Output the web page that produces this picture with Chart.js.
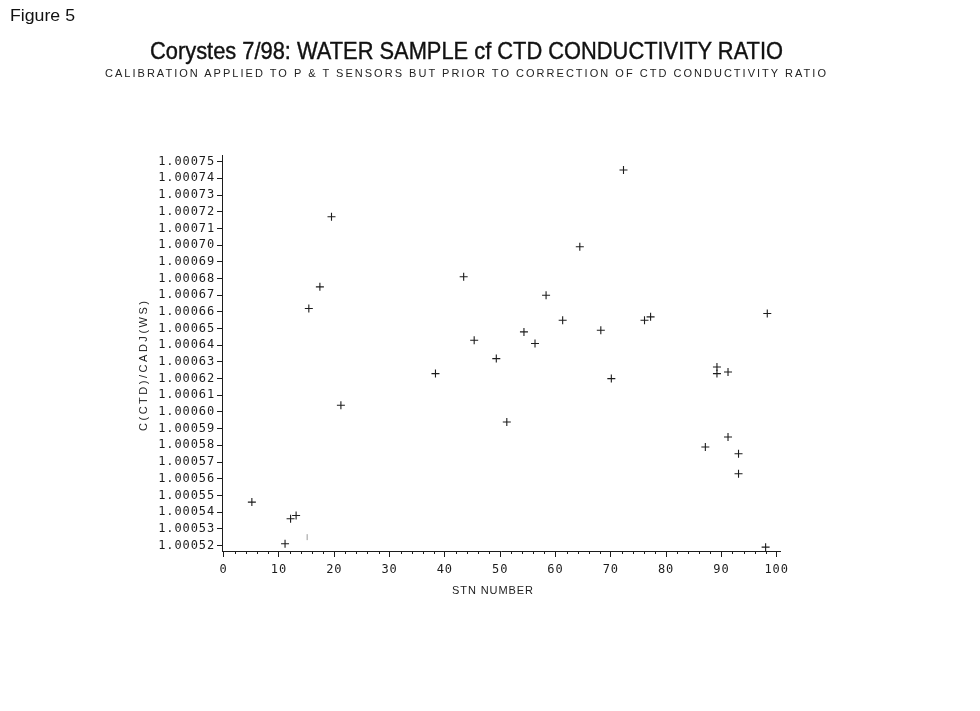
<!DOCTYPE html>
<html><head><meta charset="utf-8">
<script src="https://cdn.jsdelivr.net/npm/chart.js@4/dist/chart.umd.min.js"></script>
<style>
html,body{margin:0;padding:0;background:#fff;width:980px;height:711px;overflow:hidden;}
#wrap{position:relative;width:980px;height:711px;}
canvas{position:absolute;left:0;top:0;}
.t{position:absolute;left:0;top:0;white-space:nowrap;color:#111;line-height:1;transform-origin:0 0;}
</style></head><body>
<div id="wrap">
<canvas id="c" width="980" height="711"></canvas>
<div class="t" id="fig" style="font-family:'Liberation Sans Narrow','Liberation Sans',Arial;font-size:17px;">Figure 5</div>
<div class="t" id="title" style="font-family:'Liberation Sans Narrow','Liberation Sans',Arial;font-size:24px;-webkit-text-stroke:0.4px #111;">Corystes 7/98: WATER SAMPLE cf CTD CONDUCTIVITY RATIO</div>
<div class="t" id="sub" style="font-family:'Liberation Sans',Arial;font-size:11px;color:#222;">CALIBRATION APPLIED TO P &amp; T SENSORS BUT PRIOR TO CORRECTION OF CTD CONDUCTIVITY RATIO</div>
<div class="t" id="ytitle" style="font-family:'Liberation Sans',Arial;font-size:11px;color:#222;">C(CTD)/CADJ(WS)</div>
<div class="t" id="xtitle" style="font-family:'Liberation Sans',Arial;font-size:11px;color:#222;">STN NUMBER</div>
</div>
<script>
// ---- data ----
const stn = [5.1, 11.1, 12.1, 13.1, 15.4, 17.4, 19.5, 21.2, 38.3, 43.4, 45.3, 49.3, 51.2, 54.3, 56.3, 58.3, 61.3, 64.4, 68.2, 70.1, 72.3, 76.1, 77.2, 87.1, 89.2, 89.2, 91.2, 91.2, 93.1, 93.1, 98.0, 98.3];
const ratio = [1.000546, 1.000521, 1.000536, 1.000538, 1.000662, 1.000675, 1.000717, 1.000604, 1.000623, 1.000681, 1.000643, 1.000632, 1.000594, 1.000648, 1.000641, 1.000670, 1.000655, 1.000699, 1.000649, 1.000620, 1.000745, 1.000655, 1.000657, 1.000579, 1.000627, 1.000623, 1.000624, 1.000585, 1.000575, 1.000563, 1.000519, 1.000659];
const stnFaint = [15.1];
const ratioFaint = [1.000525];
const xTickLabels = ['0','10','20','30','40','50','60','70','80','90','100'];
const xMinorTicks = [2,4,6,8,12,14,16,18,22,24,26,28,32,34,36,38,42,44,46,48,52,54,56,58,62,64,66,68,72,74,76,78,82,84,86,88,92,94,96,98];
const yTickLabels = ['1.00052','1.00053','1.00054','1.00055','1.00056','1.00057','1.00058','1.00059','1.00060','1.00061','1.00062','1.00063','1.00064','1.00065','1.00066','1.00067','1.00068','1.00069','1.00070','1.00071','1.00072','1.00073','1.00074','1.00075'];

const ink = '#1c1c1c';
const tickFont = {family:"'DejaVu Sans Mono', 'Liberation Mono', monospace", size:12};

const spacingPlugin = {
  id:'spacing',
  beforeDraw(chart){ chart.ctx.letterSpacing = '0.9px'; },
  afterDraw(chart){
    const ctx = chart.ctx, x = chart.scales.x, bottom = chart.chartArea.bottom;
    ctx.save();
    ctx.letterSpacing = '0px';
    ctx.strokeStyle = ink; ctx.lineWidth = 1;
    ctx.beginPath();
    xMinorTicks.forEach(v => {
      const px = Math.round(x.getPixelForValue(v)) + 0.5;
      ctx.moveTo(px, bottom); ctx.lineTo(px, bottom + 3);
    });
    ctx.stroke();
    ctx.restore();
    ctx.letterSpacing = '0px';
  }
};

new Chart(document.getElementById('c'), {
  type:'scatter',
  data:{datasets:[
    {data: stn.map((s,i)=>({x:s, y:ratio[i]})), pointStyle:'cross', pointRadius:4, pointHoverRadius:4, borderColor:ink, borderWidth:1.1, backgroundColor:ink},
    {data: stnFaint.map((s,i)=>({x:s, y:ratioFaint[i]})), pointStyle:'line', rotation:90, pointRadius:3, pointHoverRadius:3, borderColor:'#9a9a9a', borderWidth:1, backgroundColor:'#9a9a9a'}
  ]},
  options:{
    responsive:false, devicePixelRatio:1, animation:false,
    layout:{padding:{top:155, right:200, bottom:130, left:0}},
    plugins:{legend:{display:false}, tooltip:{enabled:false}, title:{display:false}},
    scales:{
      x:{type:'linear', min:-0.3, max:100.6,
        afterBuildTicks: s => { s.ticks = xTickLabels.map(v => ({value: parseFloat(v)})); },
        afterFit: s => { s.height = 30; },
        ticks:{callback:(v,i)=>xTickLabels[i], font:tickFont, color:ink, padding:6, maxRotation:0, autoSkip:false},
        grid:{drawOnChartArea:false, drawTicks:true, tickLength:6, tickColor:ink, tickWidth:1},
        border:{display:true, color:ink, width:1}
      },
      y:{type:'linear', min:1.0005167, max:1.000754,
        afterBuildTicks: s => { s.ticks = yTickLabels.map(v => ({value: parseFloat(v)})); },
        afterFit: s => { s.width = 222; },
        ticks:{callback:(v,i)=>yTickLabels[i], font:tickFont, color:ink, padding:2, autoSkip:false},
        grid:{drawOnChartArea:false, drawTicks:true, tickLength:5, tickColor:ink, tickWidth:1},
        border:{display:true, color:ink, width:1}
      }
    }
  },
  plugins:[spacingPlugin]
});

// ---- place the HTML texts ----
function place(id, o){
  const el = document.getElementById(id);
  const n = el.textContent.length;
  const w = el.getBoundingClientRect().width;
  if (o.spread) {
    el.style.letterSpacing = ((o.width - w)/(n-1)) + 'px';
  } else {
    el.style.transform = 'scaleX(' + (o.width/w) + ')';
  }
  const left = (o.cx !== undefined) ? o.cx - o.width/2 : o.left;
  el.style.left = left + 'px';
  el.style.top = o.top + 'px';
  return el;
}
place('fig', {left:10, top:7, width:65});
place('title', {cx:466.5, top:39, width:633});
place('sub', {cx:465.5, top:67.5, width:721, spread:true});
place('xtitle', {cx:492.5, top:585, width:81, spread:true});
(function(){
  const el = document.getElementById('ytitle');
  const n = el.textContent.length;
  const w = el.getBoundingClientRect().width;
  const h = el.getBoundingClientRect().height;
  const L = 130;
  el.style.letterSpacing = ((L - w)/(n-1)) + 'px';
  el.style.transform = 'rotate(-90deg)';
  el.style.left = (143 - 0.49*h) + 'px';
  el.style.top = (366 + L/2) + 'px';
})();
</script>
</body></html>
